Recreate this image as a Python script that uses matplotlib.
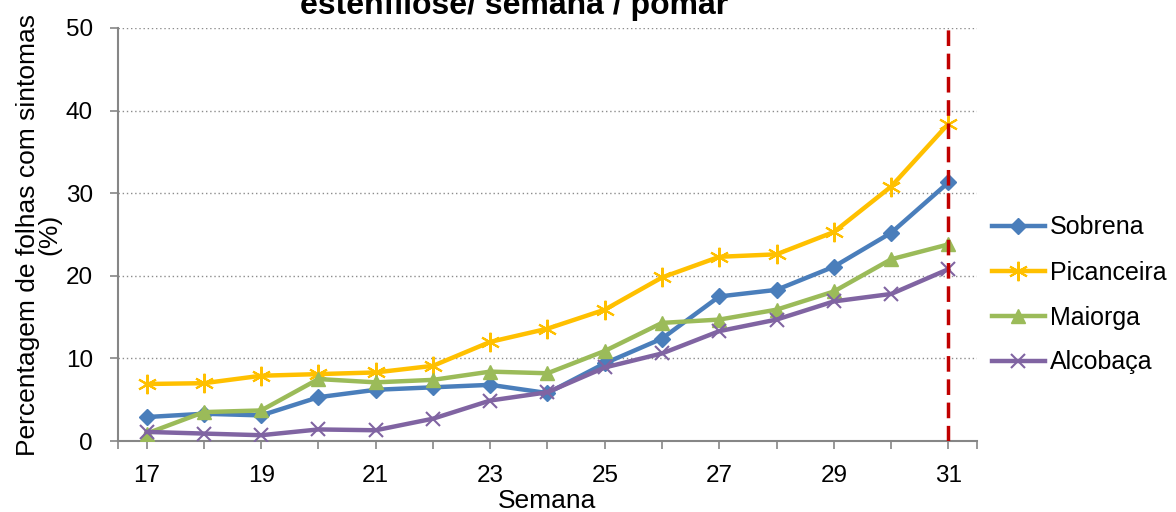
import matplotlib
matplotlib.use("Agg")
import matplotlib.pyplot as plt
from matplotlib.ticker import FixedLocator, NullFormatter

plt.rcParams['font.family'] = ['Liberation Sans', 'DejaVu Sans']

weeks = list(range(17, 32))
sobrena =    [2.9, 3.3, 3.1, 5.3, 6.2, 6.5, 6.8, 5.8, 9.4, 12.4, 17.5, 18.3, 21.1, 25.2, 31.3]
picanceira = [6.9, 7.0, 7.9, 8.1, 8.3, 9.1, 12.0, 13.6, 15.9, 19.8, 22.3, 22.6, 25.3, 30.8, 38.4]
maiorga =    [0.9, 3.5, 3.7, 7.5, 7.1, 7.4, 8.4, 8.2, 10.9, 14.3, 14.7, 15.9, 18.1, 22.0, 23.8]
alcobaca =   [1.1, 0.9, 0.7, 1.4, 1.3, 2.7, 4.9, 5.9, 8.9, 10.6, 13.3, 14.7, 16.9, 17.8, 20.8]
series_names = ["Sobrena", "Picanceira", "Maiorga", "Alcobaça"]
tick_labels = ["17", "19", "21", "23", "25", "27", "29", "31"]
title_text = "estenfilose/ semana / pomar"
ylabel_text = "Percentagem de folhas com sintomas\n(%)"
xlabel_text = "Semana"
cut_week = 31

W, H = 1176, 512
fig = plt.figure(figsize=(W / 100, H / 100), dpi=100)
ax = fig.add_axes([118 / W, 1 - 441 / H, (977 - 118) / W, (441 - 28) / H])

colors = ["#4A7EBB", "#FFC000", "#9BBB59", "#8064A2"]
markers = ["D", (6, 2, 0), "^", "x"]
msizes = [8, 14, 10, 10]
data = [sobrena, picanceira, maiorga, alcobaca]
for vals, name, c, m, ms in zip(data, series_names, colors, markers, msizes):
    mew = 1.5 if m == "x" or isinstance(m, tuple) else 1
    ax.plot(weeks, vals, color=c, lw=3.2, marker=m, ms=ms, mec=c, mfc=c,
            mew=mew, label=name, zorder=3)

ax.axvline(cut_week, color="#C00000", lw=2.5, ls=(0, (4.5, 2.2)), zorder=4)

ax.set_xlim(16.5, 31.5)
ax.set_ylim(0, 50)
ax.set_yticks([0, 10, 20, 30, 40, 50])
ax.set_xticks([int(t) for t in tick_labels])
ax.set_xticklabels(tick_labels)
ax.xaxis.set_minor_locator(FixedLocator([16.5] + weeks + [31.5]))
ax.xaxis.set_minor_formatter(NullFormatter())
ax.tick_params(axis='both', which='both', direction='out', length=6, width=1.2,
               color="#868686", labelsize=17.5, labelcolor="black")
ax.tick_params(axis='x', pad=11)
ax.tick_params(axis='y', pad=12)
ax.grid(axis='y', color="#8C8C8C", ls=(0, (1, 2)), lw=1)
ax.set_axisbelow(True)
for s in ["top", "right"]:
    ax.spines[s].set_visible(False)
for s in ["left", "bottom"]:
    ax.spines[s].set_color("#868686")
    ax.spines[s].set_linewidth(1.5)

ax.set_xlabel(xlabel_text, fontsize=19, labelpad=2)
ax.set_ylabel(ylabel_text, fontsize=19, labelpad=3, linespacing=0.9)

fig.text(514 / W, 1 - 14 / H, title_text, ha='center', va='baseline',
         fontsize=23, fontweight='bold')

fig.legend(loc='center left', bbox_to_anchor=(992 / W, 1 - 295 / H),
           frameon=False, fontsize=18, handlelength=2.1, labelspacing=0.84,
           handletextpad=0.2, borderaxespad=0, borderpad=0)

fig.savefig("out.png", dpi=100)
